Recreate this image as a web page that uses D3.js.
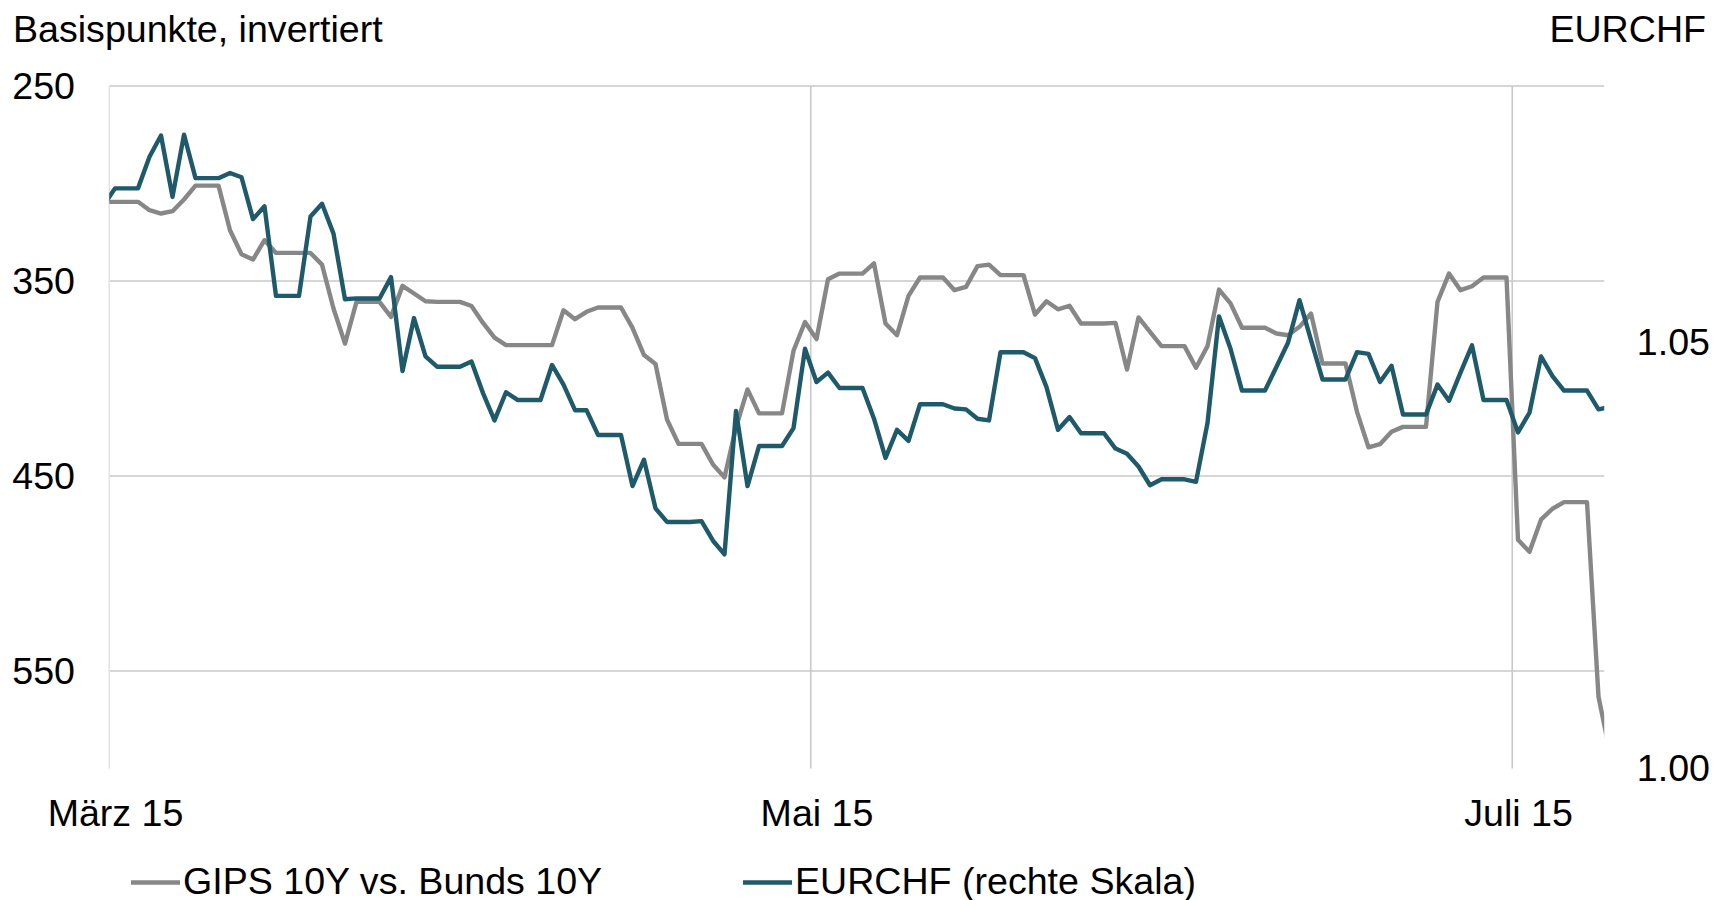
<!DOCTYPE html>
<html><head><meta charset="utf-8">
<script src="https://cdn.jsdelivr.net/npm/d3@7"></script>
<style>
html,body{margin:0;padding:0;background:#fff;}
svg{display:block;font-family:"Liberation Sans",Arial,sans-serif;}
</style>
</head><body>
<svg id="chart" width="1713" height="900"></svg>
<script>
// ---- data (daily, Feb 28 – Jul 9 2015) ----
const dates = [
 "2015-02-28",
 "2015-03-01","2015-03-02","2015-03-03","2015-03-04","2015-03-05","2015-03-06","2015-03-07","2015-03-08","2015-03-09","2015-03-10",
 "2015-03-11","2015-03-12","2015-03-13","2015-03-14","2015-03-15","2015-03-16","2015-03-17","2015-03-18","2015-03-19","2015-03-20",
 "2015-03-21","2015-03-22","2015-03-23","2015-03-24","2015-03-25","2015-03-26","2015-03-27","2015-03-28","2015-03-29","2015-03-30","2015-03-31",
 "2015-04-01","2015-04-02","2015-04-03","2015-04-04","2015-04-05","2015-04-06","2015-04-07","2015-04-08","2015-04-09","2015-04-10",
 "2015-04-11","2015-04-12","2015-04-13","2015-04-14","2015-04-15","2015-04-16","2015-04-17","2015-04-18","2015-04-19","2015-04-20",
 "2015-04-21","2015-04-22","2015-04-23","2015-04-24","2015-04-25","2015-04-26","2015-04-27","2015-04-28","2015-04-29","2015-04-30",
 "2015-05-01","2015-05-02","2015-05-03","2015-05-04","2015-05-05","2015-05-06","2015-05-07","2015-05-08","2015-05-09","2015-05-10",
 "2015-05-11","2015-05-12","2015-05-13","2015-05-14","2015-05-15","2015-05-16","2015-05-17","2015-05-18","2015-05-19","2015-05-20",
 "2015-05-21","2015-05-22","2015-05-23","2015-05-24","2015-05-25","2015-05-26","2015-05-27","2015-05-28","2015-05-29","2015-05-30","2015-05-31",
 "2015-06-01","2015-06-02","2015-06-03","2015-06-04","2015-06-05","2015-06-06","2015-06-07","2015-06-08","2015-06-09","2015-06-10",
 "2015-06-11","2015-06-12","2015-06-13","2015-06-14","2015-06-15","2015-06-16","2015-06-17","2015-06-18","2015-06-19","2015-06-20",
 "2015-06-21","2015-06-22","2015-06-23","2015-06-24","2015-06-25","2015-06-26","2015-06-27","2015-06-28","2015-06-29","2015-06-30",
 "2015-07-01","2015-07-02","2015-07-03","2015-07-04","2015-07-05","2015-07-06","2015-07-07","2015-07-08","2015-07-09"
];

const gipsSpread = [
 309.4,
 309.4,309.4,309.4,313.7,315.4,314.2,308.2,301.1,301.1,301.1,
 324.0,336.3,339.0,329.1,335.6,335.6,335.6,335.6,341.6,364.1,
 382.1,360.7,360.7,360.7,368.4,352.5,356.4,360.4,360.7,360.7,360.7,
 362.8,371.5,379.0,382.9,382.9,382.9,382.9,382.9,365.0,369.6,
 365.8,363.6,363.6,363.6,374.0,388.0,392.6,421.0,433.5,433.5,
 433.5,444.1,450.7,425.0,405.6,417.9,417.9,417.9,385.8,371.0,
 379.8,349.1,346.2,346.2,346.2,341.0,371.8,377.8,357.6,348.2,
 348.2,348.2,354.7,353.0,342.4,341.6,347.0,347.0,347.0,367.2,
 360.4,364.5,362.7,371.8,371.8,371.8,371.5,395.4,368.7,376.1,383.4,
 383.4,383.4,394.5,383.4,354.4,361.5,374.0,374.0,374.0,376.9,
 377.8,373.5,366.7,392.3,392.3,392.3,417.1,435.3,433.7,427.3,
 424.8,424.8,424.8,360.7,346.2,354.7,352.7,348.2,348.2,348.2,
 482.7,488.9,472.4,466.8,463.4,463.4,463.4,563.2,592.0
];

const eurchf = [
 1.0660,
 1.0680,1.0680,1.0680,1.0717,1.0742,1.0670,1.0743,1.0692,1.0692,1.0692,
 1.0698,1.0693,1.0644,1.0659,1.0554,1.0554,1.0554,1.0647,1.0662,1.0627,
 1.0550,1.0551,1.0551,1.0551,1.0576,1.0466,1.0528,1.0483,1.0471,1.0471,1.0471,
 1.0477,1.0440,1.0408,1.0441,1.0432,1.0432,1.0432,1.0473,1.0450,1.0420,
 1.0420,1.0391,1.0391,1.0391,1.0331,1.0362,1.0305,1.0289,1.0289,1.0289,
 1.0290,1.0267,1.0251,1.0419,1.0331,1.0378,1.0378,1.0378,1.0399,1.0492,
 1.0453,1.0464,1.0446,1.0446,1.0446,1.0410,1.0364,1.0397,1.0384,1.0427,
 1.0427,1.0427,1.0422,1.0421,1.0410,1.0408,1.0488,1.0488,1.0488,1.0481,
 1.0447,1.0397,1.0412,1.0393,1.0393,1.0393,1.0375,1.0369,1.0354,1.0332,1.0339,
 1.0339,1.0339,1.0336,1.0405,1.0530,1.0492,1.0443,1.0443,1.0443,1.0471,
 1.0499,1.0549,1.0502,1.0456,1.0456,1.0456,1.0488,1.0486,1.0453,1.0472,
 1.0415,1.0415,1.0415,1.0450,1.0431,1.0464,1.0496,1.0432,1.0432,1.0432,
 1.0394,1.0417,1.0483,1.0460,1.0443,1.0443,1.0443,1.0421,1.0424
];

const xTickDates  = ["2015-03-01","2015-05-01","2015-07-01"];
const xTickLabels = ["März 15","Mai 15","Juli 15"];
const leftTicks   = [250,350,450,550];
const rightTicks  = [1.00,1.05];
const seriesNames = ["GIPS 10Y vs. Bunds 10Y","EURCHF (rechte Skala)"];
const seriesColors = ["#878787","#1f5a6a"];
const leftTitle  = "Basispunkte, invertiert";
const rightTitle = "EURCHF";

// ---- layout ----
const FS = 37.6;
const FF = "Liberation Sans, Arial, sans-serif";
const plot = {left:109.25, right:1604.25, top:86, bottom:768.5};
const parse = d3.utcParse("%Y-%m-%d");
const mid = s => d3.utcHour.offset(parse(s), 12);

const x  = d3.scaleUtc().domain([parse("2015-03-01"), parse("2015-07-09")]).range([plot.left, plot.right]);
const yL = d3.scaleLinear().domain([250, 600]).range([plot.top, plot.bottom]);
const yR = d3.scaleLinear().domain([1.00, 1.08]).range([plot.bottom, plot.top]);

const svg = d3.select("#chart");

svg.append("defs").append("clipPath").attr("id","plotclip")
  .append("rect").attr("x", plot.left).attr("y", 0)
  .attr("width", plot.right - plot.left).attr("height", 900);

// gridlines
const grid = svg.append("g");
grid.selectAll("line.h").data(leftTicks).join("line")
  .attr("x1", plot.left).attr("x2", plot.right)
  .attr("y1", d => yL(d)).attr("y2", d => yL(d))
  .attr("stroke", "#c9c9c9").attr("stroke-width", 1.6);
grid.selectAll("line.v").data(xTickDates).join("line")
  .attr("x1", d => x(parse(d))).attr("x2", d => x(parse(d)))
  .attr("y1", plot.top).attr("y2", plot.bottom)
  .attr("stroke", (d,i) => i === 0 ? "#e3e3e3" : "#c9c9c9")
  .attr("stroke-width", 1.6);

// lines
const rows = dates.map((d,i) => ({date: mid(d), g: gipsSpread[i], e: eurchf[i]}));
const lines = svg.append("g").attr("clip-path","url(#plotclip)");
lines.append("path").datum(rows)
  .attr("fill","none").attr("stroke", seriesColors[0]).attr("stroke-width", 4.4)
  .attr("stroke-linejoin","round").attr("stroke-linecap","round")
  .attr("d", d3.line().x(d => x(d.date)).y(d => yL(d.g)));
lines.append("path").datum(rows)
  .attr("fill","none").attr("stroke", seriesColors[1]).attr("stroke-width", 4.4)
  .attr("stroke-linejoin","round").attr("stroke-linecap","round")
  .attr("d", d3.line().x(d => x(d.date)).y(d => yR(d.e)));

// axes
const xAxis = svg.append("g").attr("transform", `translate(0,${plot.bottom})`)
  .call(d3.axisBottom(x).tickValues(xTickDates.map(mid))
        .tickFormat((d,i) => xTickLabels[i]).tickSize(0).tickPadding(0));
xAxis.select(".domain").remove();
xAxis.selectAll("text").attr("dy", null).attr("y", 826 - plot.bottom)
  .attr("font-size", FS).attr("font-family", FF).attr("fill", "#000");

const lAxis = svg.append("g").attr("transform", "translate(75,0)")
  .call(d3.axisLeft(yL).tickValues(leftTicks).tickSize(0).tickPadding(0));
lAxis.select(".domain").remove();
lAxis.selectAll("text").attr("dy", "0.33em")
  .attr("font-size", FS).attr("font-family", FF).attr("fill", "#000");

const rAxis = svg.append("g").attr("transform", "translate(1710,0)")
  .call(d3.axisRight(yR).tickValues(rightTicks).tickFormat(d3.format(".2f")).tickSize(0).tickPadding(0));
rAxis.select(".domain").remove();
rAxis.selectAll("text").attr("text-anchor", "end").attr("x", 0).attr("dy", "0.33em")
  .attr("font-size", FS).attr("font-family", FF).attr("fill", "#000");

// titles
svg.append("text").attr("x", 13).attr("y", 42).attr("font-size", FS).attr("font-family", FF).attr("fill","#000").text(leftTitle);
svg.append("text").attr("x", 1706).attr("y", 42).attr("text-anchor","end").attr("font-size", FS).attr("font-family", FF).attr("fill","#000").text(rightTitle);

// legend
const legendX = [131, 743];
const lg = svg.append("g");
seriesNames.forEach((name, i) => {
  lg.append("line").attr("x1", legendX[i]).attr("x2", legendX[i] + 49)
    .attr("y1", 882.5).attr("y2", 882.5)
    .attr("stroke", seriesColors[i]).attr("stroke-width", 4.5);
  lg.append("text").attr("x", legendX[i] + 52).attr("y", 893.5)
    .attr("font-size", FS).attr("font-family", FF).attr("fill", "#000").text(name);
});
</script>
</body></html>
